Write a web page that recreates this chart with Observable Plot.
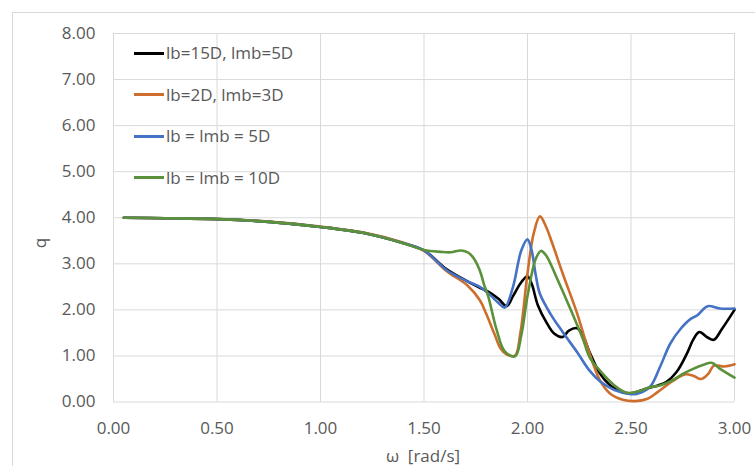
<!DOCTYPE html>
<html><head><meta charset="utf-8">
<script src="https://cdn.jsdelivr.net/npm/d3@7"></script>
<script src="https://cdn.jsdelivr.net/npm/@observablehq/plot@0.6"></script>
<style>
body{margin:0;background:#fff;font-family:"Open Sans",sans-serif;color:#595959;}
#wrap{position:relative;width:755px;height:466px;overflow:hidden;}
#border{position:absolute;left:12px;top:12px;width:780px;height:500px;border:1px solid #d9d9d9;box-sizing:border-box;}
#chart{position:absolute;left:0;top:0;}
.leg{position:absolute;left:134px;font-size:17px;line-height:20px;height:20px;white-space:nowrap;}
.leg span.sw{display:inline-block;width:30px;height:3px;vertical-align:middle;margin-right:2px;position:relative;top:-1px;}
#xt{position:absolute;left:323px;width:200px;text-align:center;top:445px;font-size:17px;line-height:22px;}
#yt{position:absolute;left:30px;top:232px;width:20px;height:22px;text-align:center;font-size:17px;line-height:22px;transform:rotate(-90deg);}
</style>
</head><body>
<div id="wrap"><div id="border"></div><div id="chart"></div>
<div id="legend"></div>
<div id="xt">ω&nbsp;&nbsp;[rad/s]</div>
<div id="yt">q</div>
</div>
<script>
const seriesNames = ["lb=15D, lmb=5D", "lb=2D, lmb=3D", "lb = lmb = 5D", "lb = lmb = 10D"];
const seriesColors = ["#000000", "#CD6E2C", "#4472C4", "#5A913A"];
const xTicks = [0, 0.5, 1, 1.5, 2, 2.5, 3];
const yTicks = [0, 1, 2, 3, 4, 5, 6, 7, 8];

const blackW = [0.05,0.25,0.5,0.75,1.0,1.22,1.385,1.5,1.61,1.71,1.77,1.82,1.86,1.90,1.93,1.97,2.00,2.02,2.05,2.09,2.13,2.17,2.20,2.24,2.27,2.30,2.35,2.40,2.46,2.50,2.58,2.63,2.67,2.72,2.77,2.80,2.83,2.87,2.90,2.94,3.00];
const blackQ = [4.00,3.99,3.97,3.91,3.80,3.66,3.47,3.29,2.88,2.62,2.48,2.37,2.24,2.08,2.30,2.60,2.73,2.57,2.10,1.74,1.48,1.41,1.55,1.60,1.42,1.08,0.62,0.36,0.21,0.19,0.30,0.36,0.43,0.65,1.05,1.35,1.52,1.40,1.35,1.59,2.00];

const orangeW = [0.05,0.25,0.5,0.75,1.0,1.22,1.385,1.5,1.61,1.71,1.77,1.80,1.84,1.87,1.90,1.94,1.965,2.00,2.03,2.06,2.09,2.12,2.17,2.24,2.29,2.35,2.40,2.46,2.52,2.58,2.63,2.70,2.76,2.80,2.84,2.875,2.90,2.95,3.00];
const orangeQ = [4.00,3.99,3.97,3.92,3.81,3.67,3.48,3.28,2.84,2.53,2.21,1.92,1.48,1.16,1.03,1.01,1.48,2.79,3.66,4.03,3.80,3.44,2.79,1.92,1.19,0.47,0.18,0.05,0.02,0.07,0.22,0.45,0.60,0.57,0.50,0.62,0.79,0.77,0.82];

const blueW = [0.05,0.25,0.5,0.75,1.0,1.22,1.385,1.5,1.61,1.71,1.77,1.82,1.86,1.89,1.93,1.97,2.00,2.02,2.04,2.06,2.11,2.17,2.24,2.30,2.35,2.42,2.50,2.53,2.59,2.64,2.69,2.74,2.79,2.82,2.87,2.93,3.00];
const blueQ = [4.00,3.99,3.97,3.91,3.80,3.66,3.47,3.29,2.86,2.62,2.50,2.32,2.15,2.05,2.50,3.29,3.53,3.29,2.75,2.35,1.92,1.52,1.08,0.68,0.45,0.26,0.17,0.18,0.32,0.76,1.27,1.59,1.81,1.88,2.08,2.03,2.03];

const greenW = [0.05,0.25,0.5,0.75,1.0,1.22,1.385,1.5,1.58,1.63,1.68,1.715,1.74,1.77,1.79,1.81,1.85,1.89,1.94,1.97,2.00,2.04,2.065,2.09,2.14,2.21,2.27,2.30,2.35,2.42,2.48,2.55,2.59,2.64,2.70,2.75,2.80,2.85,2.89,2.93,3.00];
const greenQ = [4.00,3.99,3.97,3.91,3.80,3.66,3.47,3.30,3.26,3.25,3.29,3.24,3.12,2.85,2.55,2.30,1.58,1.10,0.99,1.45,2.30,3.11,3.28,3.18,2.71,1.99,1.34,0.97,0.68,0.36,0.20,0.25,0.32,0.36,0.47,0.61,0.72,0.81,0.85,0.72,0.53];

const allW = [blackW, orangeW, blueW, greenW];
const allQ = [blackQ, orangeQ, blueQ, greenQ];
const data = [];
seriesNames.forEach((name, i) => allW[i].forEach((w, j) => data.push({series: name, w, q: allQ[i][j]})));

const fmt = d => d.toFixed(2);
const chart = Plot.plot({
  width: 755, height: 466,
  marginLeft: 113, marginRight: 21, marginTop: 33, marginBottom: 64.5,
  style: {fontFamily: '"Open Sans", sans-serif', fontSize: "17px", color: "#595959", background: "transparent"},
  x: {domain: [0, 3]},
  y: {domain: [0, 8]},
  color: {domain: seriesNames, range: seriesColors},
  marks: [
    Plot.gridX(xTicks, {stroke: "#d9d9d9", strokeOpacity: 1, strokeWidth: 1}),
    Plot.gridY(yTicks, {stroke: "#d9d9d9", strokeOpacity: 1, strokeWidth: 1}),
    Plot.axisX(xTicks, {tickSize: 0, tickPadding: 20, tickFormat: fmt, label: null, fill: "#595959"}),
    Plot.axisY(yTicks, {tickSize: 0, tickPadding: 18, tickFormat: fmt, label: null, fill: "#595959"}),
    Plot.line(data, {x: "w", y: "q", z: "series", stroke: "series", strokeWidth: 2.6, curve: "catmull-rom"})
  ]
});
document.getElementById("chart").appendChild(chart);

const legTops = [43, 84.5, 126, 167.5];
const leg = document.getElementById("legend");
seriesNames.forEach((n, i) => {
  const d = document.createElement("div");
  d.className = "leg";
  d.style.top = legTops[i] + "px";
  d.innerHTML = `<span class="sw" style="background:${seriesColors[i]}"></span>${n}`;
  leg.appendChild(d);
});
</script>
</body></html>
